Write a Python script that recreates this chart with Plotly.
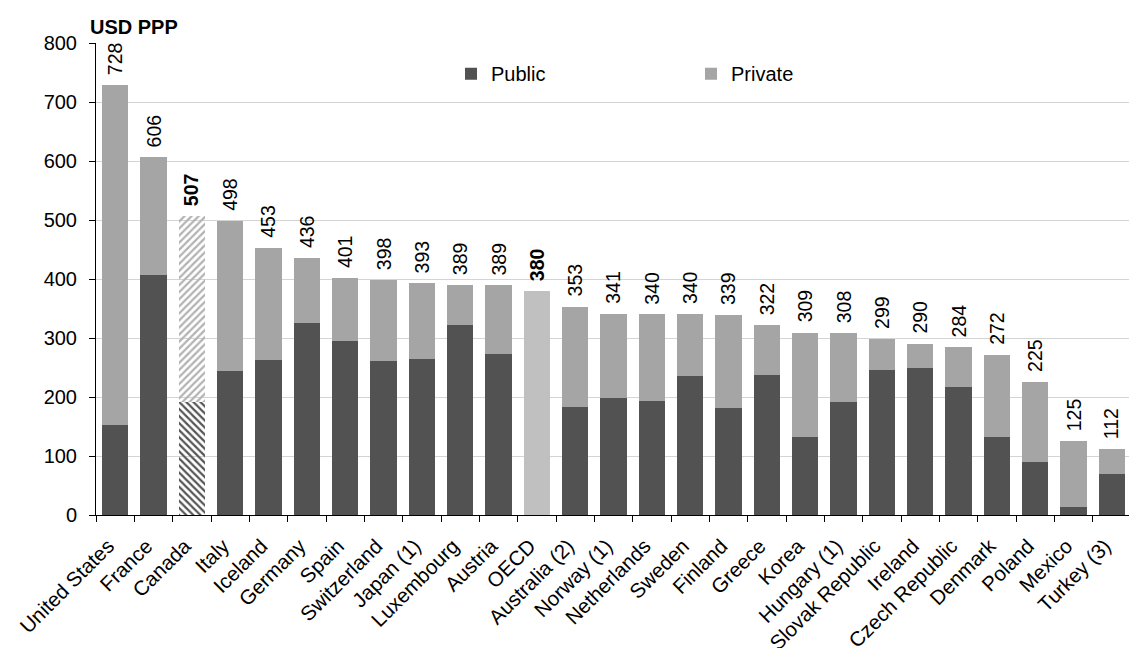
import plotly.graph_objects as go

countries = ["United States", "France", "Canada", "Italy", "Iceland", "Germany", "Spain",
             "Switzerland", "Japan (1)", "Luxembourg", "Austria", "OECD", "Australia (2)",
             "Norway (1)", "Netherlands", "Sweden", "Finland", "Greece", "Korea",
             "Hungary (1)", "Slovak Republic", "Ireland", "Czech Republic", "Denmark",
             "Poland", "Mexico", "Turkey (3)"]
public = [153, 407, 192, 244, 263, 325, 295, 261, 264, 322, 273, 227, 183, 198, 193,
          236, 181, 237, 132, 191, 246, 249, 217, 132, 90, 14, 69]
private = [575, 199, 315, 254, 190, 111, 106, 137, 129, 67, 116, 153, 170, 143, 147,
           104, 158, 85, 177, 117, 53, 41, 67, 140, 135, 111, 43]
totals = [728, 606, 507, 498, 453, 436, 401, 398, 393, 389, 389, 380, 353, 341, 340,
          340, 339, 322, 309, 308, 299, 290, 284, 272, 225, 125, 112]
bold_labels = ["Canada", "OECD"]
yticks = [0, 100, 200, 300, 400, 500, 600, 700, 800]

FONT = "Liberation Sans, Arial, sans-serif"
PUB = "#525252"
PRI = "#a5a5a5"
AVG = "#c0c0c0"

pub_colors, pri_colors = [], []
pub_shape, pri_shape = [], []
for c in countries:
    if c == "Canada":
        pub_colors.append("#555555"); pri_colors.append("#b2b2b2")
        pub_shape.append("\\"); pri_shape.append("/")
    elif c == "OECD":
        pub_colors.append(AVG); pri_colors.append(AVG)
        pub_shape.append(""); pri_shape.append("")
    else:
        pub_colors.append(PUB); pri_colors.append(PRI)
        pub_shape.append(""); pri_shape.append("")

fig = go.Figure()
fig.add_trace(go.Bar(
    x=countries, y=public, name="Public",
    marker=dict(color=pub_colors, line=dict(width=0),
                pattern=dict(shape=pub_shape, fillmode="replace", bgcolor="white",
                             size=5, solidity=0.45)),
))
fig.add_trace(go.Bar(
    x=countries, y=private, name="Private",
    marker=dict(color=pri_colors, line=dict(width=0),
                pattern=dict(shape=pri_shape, fillmode="replace", bgcolor="white",
                             size=5, solidity=0.45)),
))

annotations = []
for c, t in zip(countries, totals):
    txt = f"<b>{t}</b>" if c in bold_labels else str(t)
    annotations.append(dict(x=c, y=t, xref="x", yref="y", text=txt, textangle=-90,
                            showarrow=False, yanchor="bottom", xanchor="center",
                            yshift=8, font=dict(family=FONT, size=19.5, color="black")))
annotations.append(dict(x=-0.008, y=1, xref="paper", yref="paper", text="<b>USD PPP</b>",
                        showarrow=False, xanchor="left", yanchor="bottom", yshift=3,
                        font=dict(family=FONT, size=20, color="black")))

fig.update_layout(
    barmode="stack",
    bargap=0.32,
    width=1137, height=648,
    margin=dict(l=88, r=14, t=35, b=141, pad=0, autoexpand=False),
    paper_bgcolor="white", plot_bgcolor="white",
    font=dict(family=FONT, size=20, color="black"),
    annotations=annotations,
    legend=dict(orientation="h", x=0.343, y=0.935, xanchor="left", yanchor="middle",
                entrywidth=195, itemwidth=30, bgcolor="rgba(0,0,0,0)",
                font=dict(family=FONT, size=20, color="black"), traceorder="normal"),
    showlegend=True,
)
fig.update_xaxes(
    type="category", tickangle=-45, showline=True, linecolor="black", linewidth=1,
    ticks="outside", ticklen=6, tickcolor="black", tickson="boundaries",
    showgrid=False, automargin=False, tickfont=dict(family=FONT, size=20.5, color="black"),
    ticklabelstandoff=10, ticklabelshift=-7,
)
fig.update_yaxes(
    range=[0, 800], tickvals=yticks, showline=True, linecolor="black", linewidth=1,
    ticks="outside", ticklen=6, tickcolor="black", showgrid=True, gridcolor="#d4d4d4",
    gridwidth=1, zeroline=False, automargin=False,
    tickfont=dict(family=FONT, size=20, color="black"),
    ticklabelstandoff=8,
)

fig.write_html("out.html")
